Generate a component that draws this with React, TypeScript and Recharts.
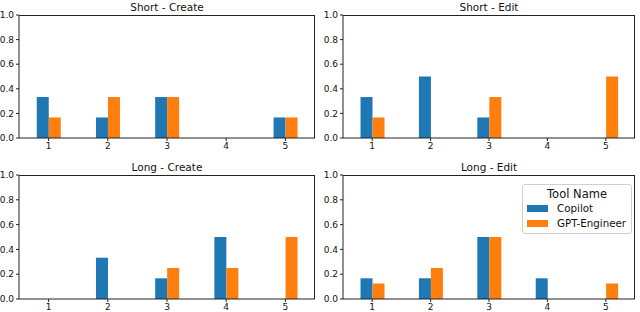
import { BarChart, Bar, XAxis, YAxis } from "recharts";

const categories = ["1", "2", "3", "4", "5"];
const yTicks = [0, 0.2, 0.4, 0.6, 0.8, 1.0];

const shortCreateCopilot = [0.333, 0.167, 0.333, 0, 0.167];
const shortCreateGpt = [0.167, 0.333, 0.333, 0, 0.167];
const shortEditCopilot = [0.333, 0.5, 0.167, 0, 0];
const shortEditGpt = [0.167, 0, 0.333, 0, 0.5];
const longCreateCopilot = [0, 0.333, 0.167, 0.5, 0];
const longCreateGpt = [0, 0, 0.25, 0.25, 0.5];
const longEditCopilot = [0.167, 0.167, 0.5, 0.167, 0];
const longEditGpt = [0.125, 0.25, 0.5, 0, 0.125];

const BLUE = "#1f77b4";
const ORANGE = "#ff7f0e";
const AXIS = "#222";
const FONT = "'DejaVu Sans', sans-serif";

const toRows = (a: number[], b: number[]) =>
  categories.map((c, i) => ({ cat: c, copilot: a[i], gpt: b[i] }));

interface PanelProps {
  title: string;
  copilot: number[];
  gpt: number[];
  left: number;
  top: number;
  yWidth: number;
  marginTop: number;
  xHeight: number;
}

function Panel({ title, copilot, gpt, left, top, yWidth, marginTop, xHeight }: PanelProps) {
  const data = toRows(copilot, gpt);
  const w = 320;
  const h = 156;
  const plotLeft = yWidth;
  const plotRight = w - 5;
  const plotBottom = h - xHeight;
  return (
    <div style={{ position: "absolute", left, top, width: w, height: h }}>
      <div
        style={{
          position: "absolute",
          left: plotLeft,
          width: plotRight - plotLeft,
          top: marginTop - 15,
          textAlign: "center",
          fontSize: 10.5,
          fontFamily: FONT,
          color: "#111",
          lineHeight: "14px",
        }}
      >
        {title}
      </div>
      <BarChart
        width={w}
        height={h}
        data={data}
        margin={{ top: marginTop, right: 5, bottom: 0, left: 0 }}
        barCategoryGap="30%"
        barGap={0}
      >
        <XAxis
          dataKey="cat"
          height={xHeight}
          tickSize={3}
          tickLine={{ stroke: AXIS }}
          axisLine={{ stroke: AXIS }}
          tick={{ fill: "#111", fontSize: 9, fontFamily: FONT }}
          interval={0}
        />
        <YAxis
          domain={[0, 1]}
          ticks={yTicks}
          width={yWidth}
          tickSize={3}
          tickLine={{ stroke: AXIS }}
          axisLine={{ stroke: AXIS }}
          tick={{ fill: "#111", fontSize: 9, fontFamily: FONT }}
          tickFormatter={(v: number) => v.toFixed(1)}
          interval={0}
        />
        <Bar dataKey="copilot" fill={BLUE} isAnimationActive={false} />
        <Bar dataKey="gpt" fill={ORANGE} isAnimationActive={false} />
      </BarChart>
      {/* top and right spines */}
      <div
        style={{
          position: "absolute",
          left: plotLeft,
          top: marginTop,
          width: plotRight - plotLeft,
          height: plotBottom - marginTop,
          borderTop: `1px solid ${AXIS}`,
          borderRight: `1px solid ${AXIS}`,
          boxSizing: "border-box",
          pointerEvents: "none",
        }}
      />
    </div>
  );
}

function ToolLegend() {
  const items = [
    { name: "Copilot", color: BLUE },
    { name: "GPT-Engineer", color: ORANGE },
  ];
  return (
    <div
      style={{
        position: "absolute",
        left: 522,
        top: 184,
        width: 108,
        height: 48,
        border: "1px solid #d0d0d0",
        borderRadius: 3,
        background: "rgba(255,255,255,0.85)",
        fontFamily: FONT,
        color: "#111",
      }}
    >
      <div style={{ textAlign: "center", fontSize: 11.5, lineHeight: "14px", marginTop: 2 }}>
        Tool Name
      </div>
      {items.map((it) => (
        <div
          key={it.name}
          style={{ display: "flex", alignItems: "center", height: 15, marginLeft: 4 }}
        >
          <span style={{ width: 21, height: 7, background: it.color, display: "inline-block" }} />
          <span style={{ fontSize: 10.3, marginLeft: 9, lineHeight: "15px" }}>{it.name}</span>
        </div>
      ))}
    </div>
  );
}

export default function App() {
  return (
    <div
      style={{
        position: "absolute",
        left: 0,
        top: 0,
        width: 640,
        height: 312,
        background: "#fff",
        overflow: "hidden",
      }}
    >
      <Panel title="Short - Create" copilot={shortCreateCopilot} gpt={shortCreateGpt} left={0} top={0} yWidth={19} marginTop={15} xHeight={18} />
      <Panel title="Short - Edit" copilot={shortEditCopilot} gpt={shortEditGpt} left={320} top={0} yWidth={23} marginTop={15} xHeight={18} />
      <Panel title="Long - Create" copilot={longCreateCopilot} gpt={longCreateGpt} left={0} top={156} yWidth={19} marginTop={19} xHeight={13} />
      <Panel title="Long - Edit" copilot={longEditCopilot} gpt={longEditGpt} left={320} top={156} yWidth={23} marginTop={19} xHeight={13} />
      <ToolLegend />
    </div>
  );
}
